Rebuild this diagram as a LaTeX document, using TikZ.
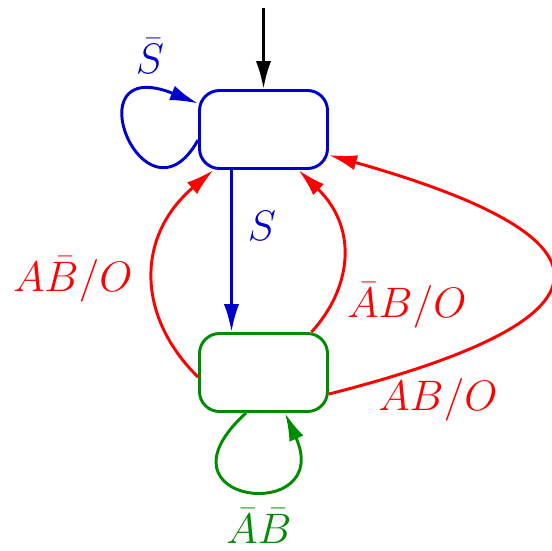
\documentclass[tikz,border=0pt]{standalone}
\usepackage{fix-cm}
\usetikzlibrary{arrows.meta}
\definecolor{sblue}{RGB}{0,0,205}
\definecolor{sgreen}{RGB}{0,140,0}
\definecolor{sred}{RGB}{255,0,0}
\begin{document}
\begin{tikzpicture}[x=0.75pt,y=-0.75pt,
  every node/.style={font=\fontsize{32}{38}\selectfont},
  state/.style={draw,line width=2.2pt,rounded corners=15pt,minimum width=96pt,minimum height=58.5pt,inner sep=0pt},
  edge/.style={line width=2.2pt,-{Latex[length=21pt,width=11.5pt]}},
  lbl/.style={anchor=base,inner sep=0pt}]
\useasboundingbox (0,0) rectangle (552,550);
\node[state,sblue] (top) at (263.5,129.5) {};
\node[state,sgreen] (bot) at (263.5,372.5) {};
\coordinate (init) at (263.5,8);
\draw[edge,black] (init) -- (top.north);
% self loop on top state
\draw[edge,sblue] ([yshift=-10.5*0.75pt]top.west) .. controls (145,235) and (70,52) .. ([yshift=26*0.75pt]top.west);
\node[lbl,text=sblue] (ls) at (150,73) {$\bar S$};
% S edge
\draw[edge,sblue] ([xshift=-32*0.75pt]top.south) -- ([xshift=-32*0.75pt]bot.north);
\node[lbl,text=sblue] (lS) at (262,240) {$S$};
% red edges
\draw[edge,sred] ([yshift=-4.5*0.75pt]bot.west) .. controls (137,317) and (135,237) .. ([xshift=-50*0.75pt]top.south);
\node[lbl,text=sred] (l1) at (73,291) {$A\bar B/O$};
\draw[edge,sred] ([xshift=48*0.75pt]bot.north) .. controls (350,290) and (360,230) .. ([xshift=35*0.75pt]top.south);
\node[lbl,text=sred] (l2) at (407,317) {$\bar AB/O$};
\draw[edge,sred] ([yshift=-21.5*0.75pt]bot.east) .. controls (620,320) and (630,240) .. ([yshift=-25.5*0.75pt]top.east);
\node[lbl,text=sred] (l3) at (438,410) {$AB/O$};
% self loop on bottom state
\draw[edge,sgreen] ([xshift=-17.5*0.75pt]bot.south) .. controls (145,505) and (335,525) .. ([xshift=21.5*0.75pt]bot.south);
\node[lbl,text=sgreen] (l4) at (259,543) {$\bar A\bar B$};
\end{tikzpicture}
\end{document}
